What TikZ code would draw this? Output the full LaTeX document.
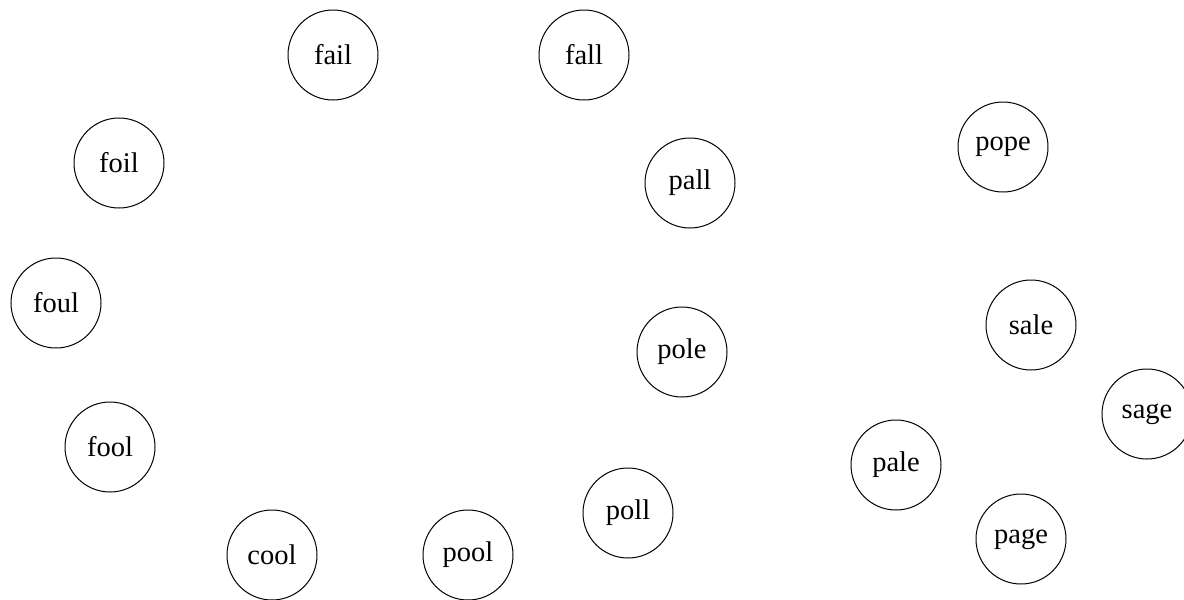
\documentclass[tikz,border=0pt]{standalone}
\usepackage{fontspec}
\setmainfont{Liberation Serif}
\begin{document}
\begin{tikzpicture}[x=1pt,y=-1pt,
  word/.style={draw, circle, minimum size=90pt, inner sep=0pt, line width=1pt, font=\fontsize{28.5}{31}\selectfont}]
\useasboundingbox (0,0) rectangle (1184,600);
\node[word] (fail) at (333,55) {fail};
\node[word] (fall) at (584,55) {fall};
\node[word] (foil) at (119,163) {foil};
\node[word] (pall) at (690,183) {pall};
\node[word] (pope) at (1003,147) {pope};
\node[word] (foul) at (56,303) {foul};
\node[word] (sale) at (1031,325) {sale};
\node[word] (pole) at (682,352) {pole};
\node[word] (sage) at (1147,414) {sage};
\node[word] (fool) at (110,447) {fool};
\node[word] (pale) at (896,465) {pale};
\node[word] (poll) at (628,513) {poll};
\node[word] (cool) at (272,555) {cool};
\node[word] (pool) at (468,555) {pool};
\node[word] (page) at (1021,539) {page};
\end{tikzpicture}
\end{document}
